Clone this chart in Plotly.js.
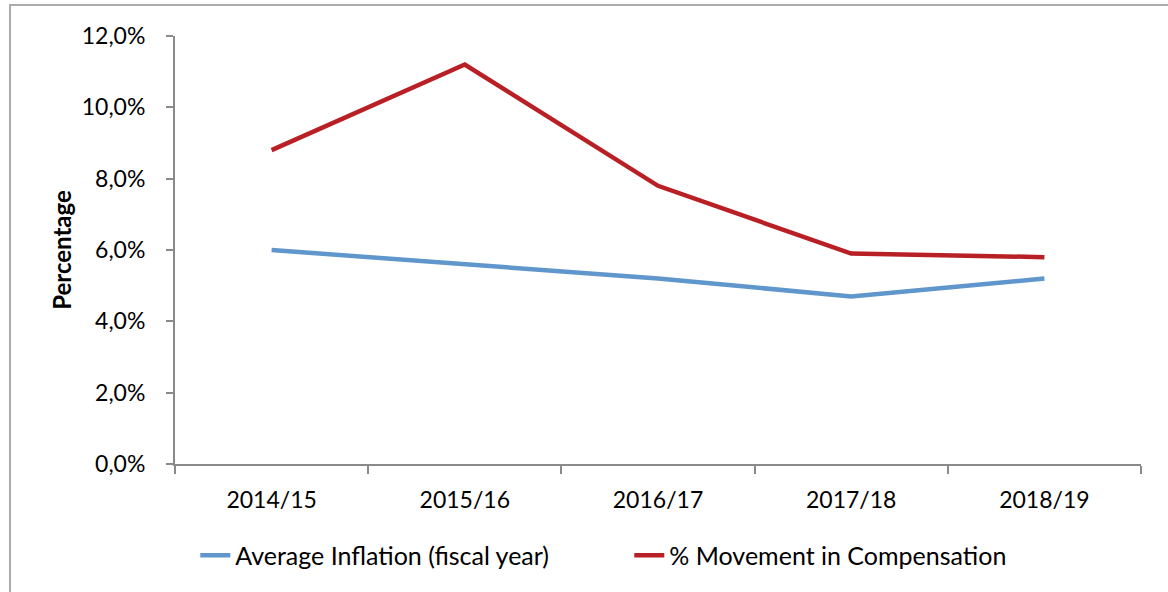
<!DOCTYPE html>
<html>
<head>
<meta charset="utf-8">
<script src="https://cdn.plot.ly/plotly-3.0.1.min.js"></script>
<style>
  html, body { margin: 0; padding: 0; background: #fff; }
  #wrap { position: relative; width: 1168px; height: 592px; overflow: hidden; }
  #chart { width: 1168px; height: 592px; }
  #frame { position: absolute; left: 9px; top: 4px; width: 1200px; height: 700px;
           border-left: 2px solid #ababab; border-top: 2px solid #ababab; pointer-events: none; }
</style>
</head>
<body>
<div id="wrap">
  <div id="chart"></div>
  <div id="frame"></div>
</div>
<script>
const categories = ["2014/15", "2015/16", "2016/17", "2017/18", "2018/19"];
const inflation = [6.0, 5.6, 5.2, 4.7, 5.2];
const compensation = [8.8, 11.2, 7.8, 5.9, 5.8];
const yTicks = [0, 2, 4, 6, 8, 10, 12];
const yTickLabels = ["0,0%", "2,0%", "4,0%", "6,0%", "8,0%", "10,0%", "12,0%"];

const FONT = "Lato, 'Open Sans', sans-serif";

const traces = [
  {
    type: "scatter", mode: "lines", name: "Average Inflation (fiscal year)",
    x: categories, y: inflation,
    line: { color: "#5f96cb", width: 4.5 }
  },
  {
    type: "scatter", mode: "lines", name: "% Movement in Compensation",
    x: categories, y: compensation,
    line: { color: "#b82025", width: 4.5 }
  }
];

const layout = {
  width: 1168, height: 592,
  margin: { l: 175, r: 27, t: 36, b: 127.5, pad: 0 },
  paper_bgcolor: "#ffffff", plot_bgcolor: "#ffffff",
  separators: ",.",
  font: { family: FONT, size: 23, color: "#000000" },
  showlegend: true,
  legend: {
    orientation: "h", x: 0.021, xanchor: "left", y: -0.2135, yanchor: "middle",
    font: { family: FONT, size: 25, color: "#000000" },
    entrywidth: 389, bgcolor: "rgba(0,0,0,0)", borderwidth: 0
  },
  xaxis: {
    type: "category", range: [-0.5, 4.5], fixedrange: true,
    showline: true, linecolor: "#8a8a8a", linewidth: 2,
    showgrid: false, zeroline: false,
    ticks: "outside", tickson: "boundaries", ticklen: 8, tickwidth: 2, tickcolor: "#8a8a8a",
    ticklabelstandoff: 14,
    tickfont: { family: FONT, size: 23, color: "#000000" }
  },
  yaxis: {
    range: [0, 12], tickmode: "array", tickvals: yTicks, ticktext: yTickLabels,
    showline: true, linecolor: "#8a8a8a", linewidth: 2,
    showgrid: false, zeroline: false,
    ticks: "outside", ticklen: 7, tickwidth: 2, tickcolor: "#8a8a8a",
    ticklabelstandoff: 16,
    tickfont: { family: FONT, size: 23, color: "#000000" },
    title: { text: "Percentage", standoff: 3,
             font: { family: FONT, size: 24, color: "#000000", weight: 700 } }
  }
};

Plotly.newPlot("chart", traces, layout, { staticPlot: true, displayModeBar: false });
</script>
</body>
</html>
